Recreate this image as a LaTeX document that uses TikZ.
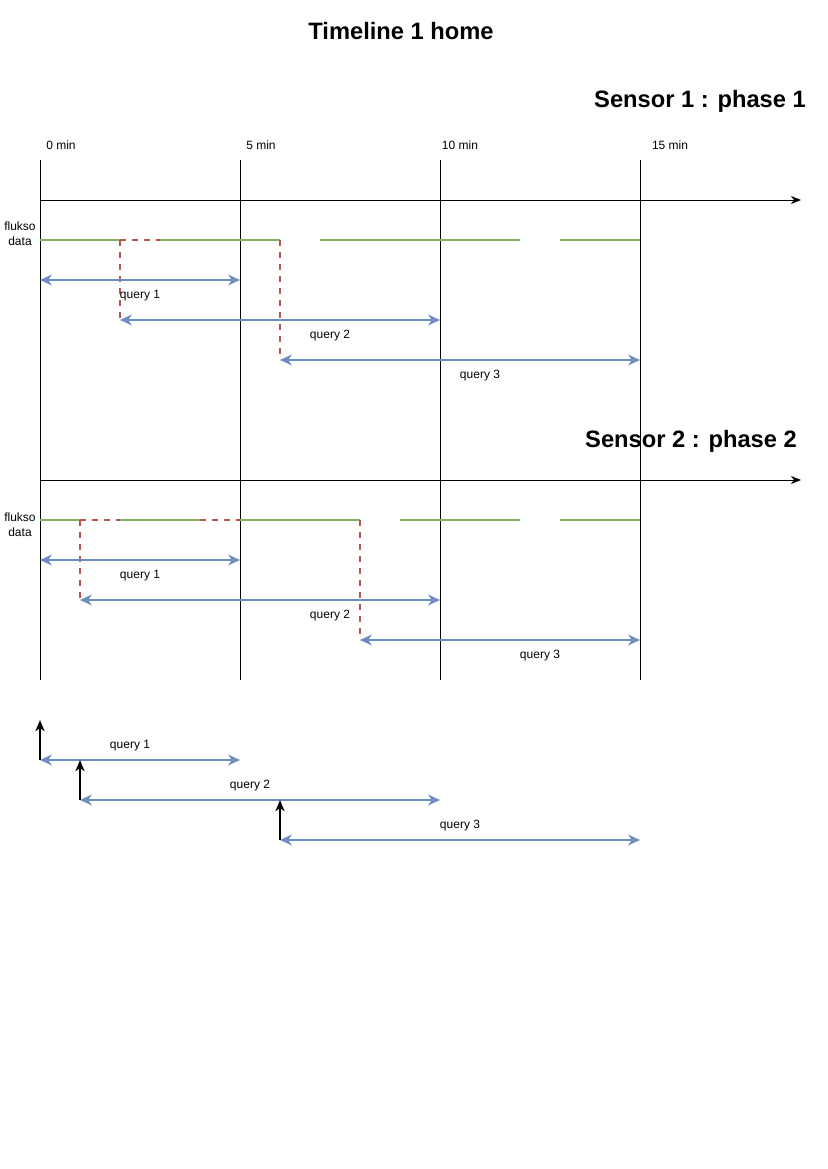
\documentclass[tikz,border=0pt]{standalone}
\usepackage{fontspec}
\setmainfont{Liberation Sans}
\usetikzlibrary{arrows.meta}
\definecolor{qblue}{HTML}{6C8EBF}
\definecolor{dgreen}{HTML}{82B366}
\definecolor{dred}{HTML}{B85450}
\begin{document}
\begin{tikzpicture}[x=1pt,y=-1pt,
  lbl/.style={font=\fontsize{12}{15}\selectfont, inner sep=0pt, align=center},
  head/.style={font=\bfseries\fontsize{23.7}{28}\selectfont, inner sep=0pt},
  gridline/.style={black, line width=1pt},
  axisline/.style={black, line width=1pt, -{Stealth[length=10pt,width=8pt,inset=3pt]}},
  query/.style={qblue, line width=2.2pt, {Stealth[length=12pt,width=11pt,inset=4pt]}-{Stealth[length=12pt,width=11pt,inset=4pt]}},
  data/.style={dgreen, line width=2.6pt},
  miss/.style={dred, line width=2pt, dash pattern=on 6pt off 6pt},
  startarrow/.style={black, line width=2pt, -{Stealth[length=11pt,width=9pt,inset=3pt]}}]

\useasboundingbox (0,0) rectangle (827,1169);

% titles
\node[head] (title) at (401,31) {Timeline 1 home};
\node[head] (sens1) at (700,101) {Sensor 1 : phase 1};
\node[head] (sens2) at (691,441) {Sensor 2 : phase 2};

% time labels
\node[lbl] (t0) at (61,145) {0 min};
\node[lbl] (t5) at (261,145) {5 min};
\node[lbl] (t10) at (460,145) {10 min};
\node[lbl] (t15) at (670,145) {15 min};

% grid lines
\foreach \x/\n in {40/a,240/b,440/c,640/d}{
  \coordinate (g\n t) at (\x,160);
  \coordinate (g\n b) at (\x,680);
  \draw[gridline] (g\n t) -- (g\n b);
}

% axes
\coordinate (ax1s) at (40,200); \coordinate (ax1e) at (801,200);
\coordinate (ax2s) at (40,480); \coordinate (ax2e) at (801,480);
\draw[axisline] (ax1s) -- (ax1e);
\draw[axisline] (ax2s) -- (ax2e);

% ---------- Sensor 1 ----------
\node[lbl] (fl1) at (20,234) {flukso\\data};
\coordinate (a1) at (40,240);  \coordinate (a2) at (120,240);
\coordinate (a3) at (160,240); \coordinate (a4) at (280,240);
\coordinate (a5) at (320,240); \coordinate (a6) at (520,240);
\coordinate (a7) at (560,240); \coordinate (a8) at (640,240);
\draw[data] (a1) -- (a2);
\draw[data] (a3) -- (a4);
\draw[data] (a5) -- (a6);
\draw[data] (a7) -- (a8);
\draw[miss] (a2) -- (a3);
\coordinate (a2d) at (120,320);
\coordinate (a4d) at (280,360);
\draw[miss] (a2) -- (a2d);
\draw[miss] (a4) -- (a4d);

\coordinate (q11s) at (40,280); \coordinate (q11e) at (240,280);
\coordinate (q12e) at (440,320);
\coordinate (q13e) at (640,360);
\draw[query] (q11s) -- (q11e);
\draw[query] (a2d) -- (q12e);
\draw[query] (a4d) -- (q13e);
\node[lbl] (lq11) at (140,296) {query 1};
\node[lbl] (lq12) at (330,336) {query 2};
\node[lbl] (lq13) at (480,376) {query 3};

% ---------- Sensor 2 ----------
\node[lbl] (fl2) at (20,525) {flukso\\data};
\coordinate (b1) at (40,520);  \coordinate (b2) at (80,520);
\coordinate (b3) at (120,520); \coordinate (b4) at (200,520);
\coordinate (b5) at (240,520); \coordinate (b6) at (360,520);
\coordinate (b7) at (400,520); \coordinate (b8) at (520,520);
\coordinate (b9) at (560,520); \coordinate (b10) at (640,520);
\draw[data] (b1) -- (b2);
\draw[data] (b3) -- (b4);
\draw[data] (b5) -- (b6);
\draw[data] (b7) -- (b8);
\draw[data] (b9) -- (b10);
\draw[miss] (b2) -- (b3);
\draw[miss] (b4) -- (b5);
\coordinate (b2d) at (80,600);
\coordinate (b6d) at (360,640);
\draw[miss] (b2) -- (b2d);
\draw[miss] (b6) -- (b6d);

\coordinate (q21s) at (40,560); \coordinate (q21e) at (240,560);
\coordinate (q22e) at (440,600);
\coordinate (q23e) at (640,640);
\draw[query] (q21s) -- (q21e);
\draw[query] (b2d) -- (q22e);
\draw[query] (b6d) -- (q23e);
\node[lbl] (lq21) at (140,576) {query 1};
\node[lbl] (lq22) at (330,616) {query 2};
\node[lbl] (lq23) at (540,656) {query 3};

% ---------- bottom scheme ----------
\coordinate (c1) at (40,760);  \coordinate (c1u) at (40,720);  \coordinate (c1e) at (240,760);
\coordinate (c2) at (80,800);  \coordinate (c2u) at (80,760);  \coordinate (c2e) at (440,800);
\coordinate (c3) at (280,840); \coordinate (c3u) at (280,800); \coordinate (c3e) at (640,840);
\draw[query] (c1) -- (c1e);
\draw[query] (c2) -- (c2e);
\draw[query] (c3) -- (c3e);
\draw[startarrow] (c1) -- (c1u);
\draw[startarrow] (c2) -- (c2u);
\draw[startarrow] (c3) -- (c3u);
\node[lbl] (lq31) at (130,746) {query 1};
\node[lbl] (lq32) at (250,786) {query 2};
\node[lbl] (lq33) at (460,826) {query 3};
\end{tikzpicture}
\end{document}
